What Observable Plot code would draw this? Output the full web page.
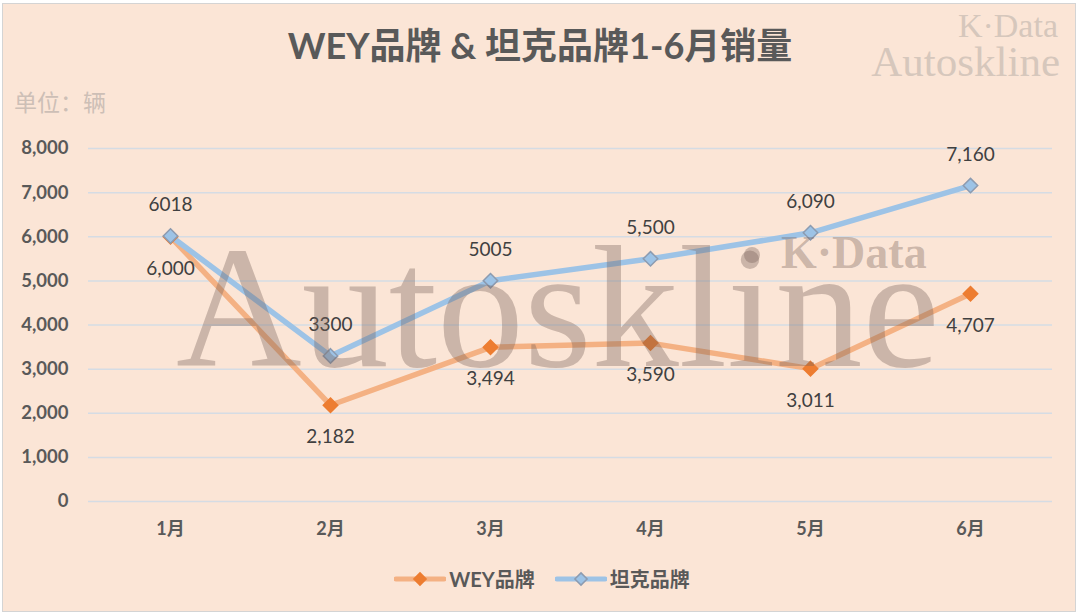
<!DOCTYPE html>
<html>
<head>
<meta charset="utf-8">
<script src="https://cdn.jsdelivr.net/npm/d3@7"></script>
<script src="https://cdn.jsdelivr.net/npm/@observablehq/plot@0.6"></script>
<style>
  body { margin: 0; background: #fff; }
  #frame { position: relative; width: 1080px; height: 615px; overflow: hidden; font-family: Lato, "Noto Sans CJK SC", sans-serif; }
  #card { position: absolute; left: 2px; top: 3px; width: 1074px; height: 609px; background: #FBE5D6; border: 1px solid #d4d4d4; box-sizing: border-box; }
  #chart, #wm { position: absolute; left: 0; top: 0; }
  #title { position: absolute; left: 0; top: 24px; width: 1080px; text-align: center; font-size: 36px; line-height: 42px; font-weight: 700; color: #595959; }
  #unit { position: absolute; left: 14px; top: 86px; font-size: 23px; line-height: 30px; color: #CDBFB6; font-family: "Noto Sans CJK SC", sans-serif; }
  #legend { position: absolute; left: 0; top: 564px; width: 1084px; display: flex; justify-content: center; gap: 20px; font-size: 20px; font-weight: 700; color: #595959; }
  #legend .item { display: flex; align-items: center; gap: 3px; }
</style>
</head>
<body>
<div id="frame">
  <div id="card"></div>
  <div id="chart"></div>
  <div id="title">WEY品牌 &amp; 坦克品牌1-6月销量</div>
  <div id="unit">单位：辆</div>
  <div id="legend"></div>
</div>
<script>
// 数据
const months = ["1月", "2月", "3月", "4月", "5月", "6月"];
const wey = [6000, 2182, 3494, 3590, 3011, 4707];
const tank = [6018, 3300, 5005, 5500, 6090, 7160];
const weyLabels = ["6,000", "2,182", "3,494", "3,590", "3,011", "4,707"];
const tankLabels = ["6018", "3300", "5005", "5,500", "6,090", "7,160"];
const yTicks = [0, 1000, 2000, 3000, 4000, 5000, 6000, 7000, 8000];
const seriesNames = ["WEY品牌", "坦克品牌"];

const weyRows = months.map((m, i) => ({month: m, value: wey[i], label: weyLabels[i]}));
const tankRows = months.map((m, i) => ({month: m, value: tank[i], label: tankLabels[i]}));

const orangeLine = "#F4B183", orangeDot = "#ED7D31";
const blueLine = "#9DC3E6", blueStroke = "#8C9BB0";

let chart = Plot.plot({
  width: 1080,
  height: 615,
  marginTop: 148,
  marginBottom: 114,
  marginLeft: 88,
  marginRight: 28,
  style: {background: "transparent", fontFamily: 'Lato, "Noto Sans CJK SC", sans-serif', fontSize: "18px", color: "#595959"},
  x: {type: "point", domain: months, padding: 0.5},
  y: {domain: [0, 8000]},
  marks: [
    Plot.gridY(yTicks, {stroke: "#D5DCE4", strokeOpacity: 1, strokeWidth: 1.5}),
    Plot.axisY(yTicks, {tickSize: 0, tickPadding: 20, tickFormat: d3.format(","), fontWeight: "bold", fontSize: 18.5, label: null}),
    Plot.axisX({tickSize: 0, tickPadding: 21, fontWeight: "bold", label: null}),
    Plot.line(weyRows, {x: "month", y: "value", stroke: orangeLine, strokeWidth: 5.5}),
    Plot.line(tankRows, {x: "month", y: "value", stroke: blueLine, strokeWidth: 5.5}),
    Plot.dot(weyRows, {x: "month", y: "value", symbol: "diamond2", r: 6.5, fill: orangeDot, stroke: orangeDot}),
    Plot.dot(tankRows, {x: "month", y: "value", symbol: "diamond2", r: 6.5, fill: blueLine, stroke: blueStroke, strokeWidth: 1.5}),
    Plot.text(weyRows, {x: "month", y: "value", text: "label", dy: 32, fill: "#404040", fontSize: 19}),
    Plot.text(tankRows, {x: "month", y: "value", text: "label", dy: -31, fill: "#404040", fontSize: 19})
  ]
});
d3.select("#chart").append(() => chart);

// 水印
const wm = d3.select("#frame").append("svg").attr("id", "wm").attr("width", 1080).attr("height", 615)
  .style("pointer-events", "none").style("font-family", '"Liberation Serif", serif');
const wmFill = "rgba(118,96,88,0.36)";
wm.append("text").attr("x", 176).attr("y", 366).attr("font-size", 174).attr("fill", wmFill).text("Autoskline");
wm.append("circle").attr("cx", 752).attr("cy", 255).attr("r", 8).attr("fill", wmFill);
wm.append("text").attr("x", 781).attr("y", 268).attr("font-size", 46).attr("font-weight", "bold").attr("fill", wmFill).text("K·Data");
wm.append("text").attr("x", 1058).attr("y", 37).attr("text-anchor", "end").attr("font-size", 34).attr("fill", "#D6C7BC").text("K·Data");
wm.append("text").attr("x", 1060).attr("y", 76).attr("text-anchor", "end").attr("font-size", 43).attr("fill", "#D6C7BC").text("Autoskline");

// 图例
const legendSpec = [
  {name: seriesNames[0], line: orangeLine, fill: orangeDot, stroke: orangeDot},
  {name: seriesNames[1], line: blueLine, fill: blueLine, stroke: blueStroke}
];
const legend = d3.select("#legend");
legendSpec.forEach(s => {
  const item = legend.append("div").attr("class", "item");
  const sw = item.append("svg").attr("width", 52).attr("height", 16);
  sw.append("line").attr("x1", 2).attr("x2", 50).attr("y1", 8).attr("y2", 8)
    .attr("stroke", s.line).attr("stroke-width", 5).attr("stroke-linecap", "round");
  sw.append("path").attr("d", d3.symbol(d3.symbolDiamond2, 95)()).attr("transform", "translate(26,8)")
    .attr("fill", s.fill).attr("stroke", s.stroke).attr("stroke-width", 1.5);
  item.append("span").text(s.name);
});
</script>
</body>
</html>
